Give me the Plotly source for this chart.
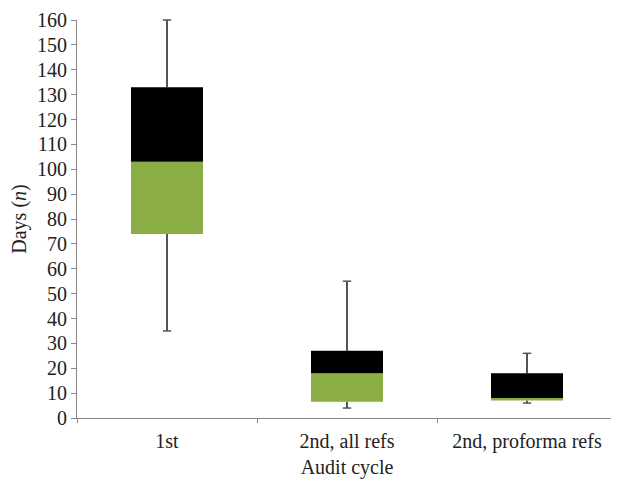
import plotly.graph_objects as go

categories = ["1st", "2nd, all refs", "2nd, proforma refs"]
minimum = [35, 4, 6]
q1 = [74, 6.5, 7]
median = [103, 18, 8]
q3 = [133, 27, 18]
maximum = [160, 55, 26]

green_h = [m - a for m, a in zip(median, q1)]
black_h = [b - m for b, m in zip(q3, median)]
low_w = [a - mn for a, mn in zip(q1, minimum)]
up_w = [mx - b for mx, b in zip(maximum, q3)]

font = "Liberation Serif"
fs = 20
wcol = "#555555"
fig = go.Figure()

# whisker lines (thin bars)
fig.add_trace(go.Bar(x=categories, y=low_w, base=minimum, width=0.008,
                     marker=dict(color=wcol, line=dict(width=0)),
                     showlegend=False, hoverinfo="skip"))
fig.add_trace(go.Bar(x=categories, y=up_w, base=q3, width=0.008,
                     marker=dict(color=wcol, line=dict(width=0)),
                     showlegend=False, hoverinfo="skip"))
fig.add_trace(go.Bar(x=categories, y=green_h, base=q1, marker=dict(color="#8aad45", line=dict(width=0)),
                     width=0.4, showlegend=False))
fig.add_trace(go.Bar(x=categories, y=black_h, base=median, marker=dict(color="#000000", line=dict(width=0)),
                     width=0.4, showlegend=False))
# whisker caps
fig.add_trace(go.Scatter(x=categories + categories, y=minimum + maximum, mode="markers",
                         marker=dict(symbol="line-ew", size=6, line=dict(color=wcol, width=1.5)),
                         cliponaxis=False, showlegend=False, hoverinfo="skip"))

fig.update_layout(
    width=611, height=473,
    margin=dict(l=69, r=2, t=12, b=63, autoexpand=False),
    paper_bgcolor="white", plot_bgcolor="white",
    barmode="overlay",
    font=dict(family=font, size=fs, color="#222222"),
)
fig.update_xaxes(
    type="category", showline=True, linecolor="#888888", linewidth=1.2,
    ticks="outside", tickson="boundaries", ticklen=4, tickcolor="#888888",
    showgrid=False, zeroline=False, ticklabelstandoff=5, automargin=False,
    title=dict(text="Audit cycle", font=dict(family=font, size=fs), standoff=7),
    tickfont=dict(family=font, size=fs),
)
fig.update_yaxes(
    range=[0, 160], dtick=10, showline=True, linecolor="#888888", linewidth=1.2,
    ticks="outside", ticklen=5, tickcolor="#888888", showgrid=False, zeroline=False,
    ticklabeloverflow="allow", automargin=False,
    title=dict(text="Days (<i>n</i>)", font=dict(family=font, size=fs), standoff=8),
    tickfont=dict(family=font, size=fs),
)

fig.write_html("out.html")
